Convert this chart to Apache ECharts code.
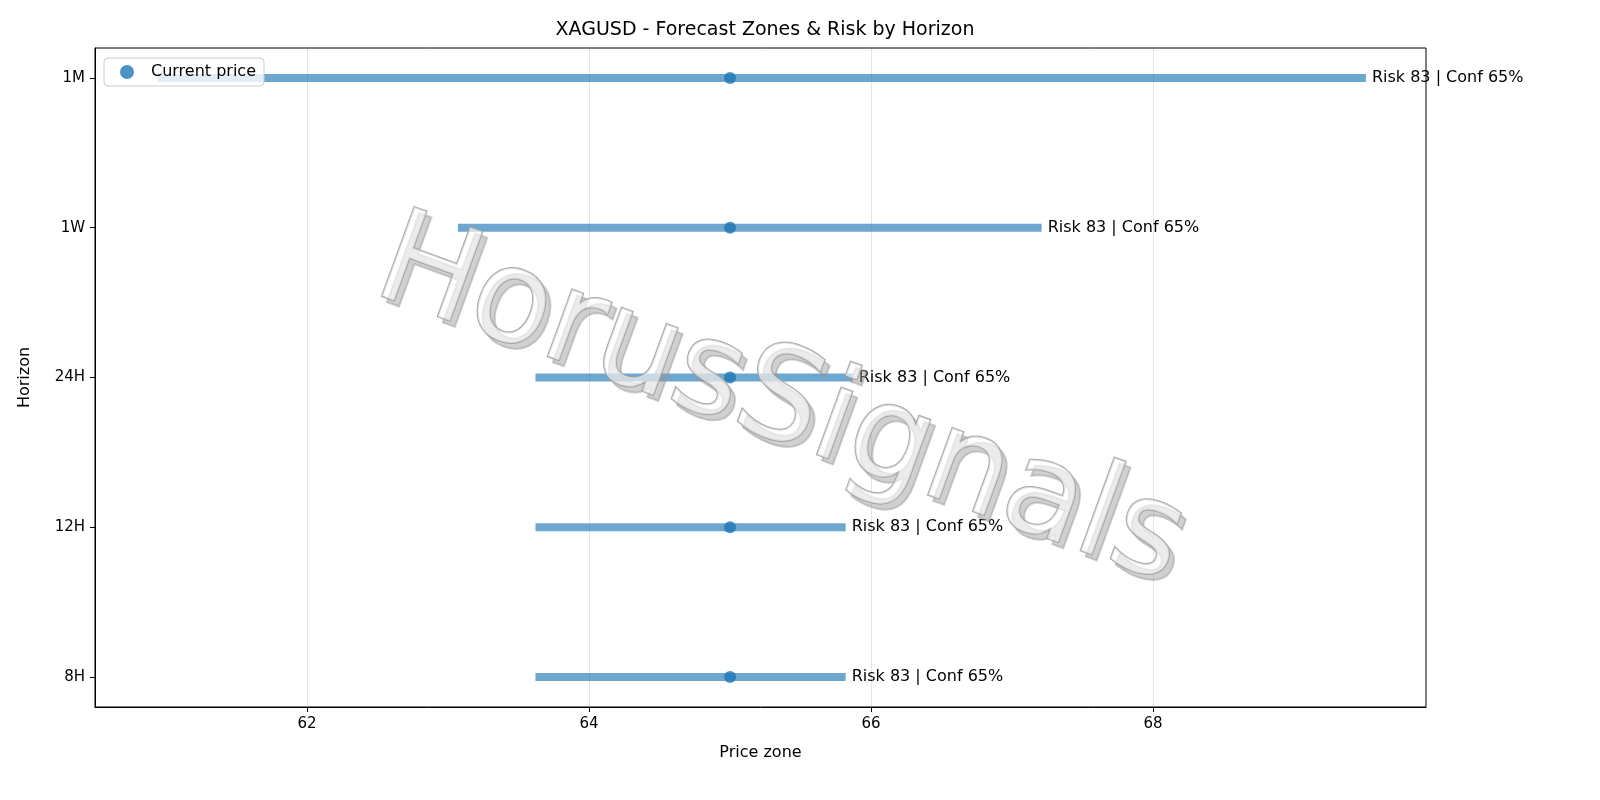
<!DOCTYPE html>
<html>
<head>
<meta charset="utf-8">
<script src="https://cdn.jsdelivr.net/npm/echarts@6/dist/echarts.min.js"></script>
<style>html,body{margin:0;padding:0;background:#fff}#chart{width:1600px;height:800px}</style>
</head>
<body>
<div id="chart"></div>
<script>
var horizons = ['8H', '12H', '24H', '1W', '1M'];
var zoneLow = [63.62, 63.62, 63.62, 63.07, 60.94];
var zoneHigh = [65.82, 65.82, 65.87, 67.21, 69.51];
var currentPrice = [65.0, 65.0, 65.0, 65.0, 65.0];
var riskLabels = ['Risk 83 | Conf 65%', 'Risk 83 | Conf 65%', 'Risk 83 | Conf 65%', 'Risk 83 | Conf 65%', 'Risk 83 | Conf 65%'];
var xTicks = [62, 64, 66, 68];

var chart = echarts.init(document.getElementById('chart'));
var font = 'DejaVu Sans';

var series = [];
for (var i = 0; i < horizons.length; i++) {
    series.push({
        type: 'line',
        data: [[zoneLow[i], i], [zoneHigh[i], i]],
        symbol: 'none',
        silent: true,
        lineStyle: {width: 8, color: '#1f77b4', opacity: 0.65, cap: 'butt'},
        endLabel: {
            show: true,
            distance: 6,
            color: '#000',
            fontSize: 16,
            fontFamily: font,
            formatter: riskLabels[i]
        },
        z: 2
    });
}
series.push({
    name: 'Current price',
    type: 'scatter',
    symbolSize: 12,
    itemStyle: {color: '#1f77b4'},
    data: currentPrice.map(function (v, i) { return [v, i]; }),
    z: 3
});

// watermark: grey offset copy under a translucent white copy
function watermark(dx, dy, fill, stroke, z) {
    return {
        type: 'text', x: 780 + dx, y: 405 + dy, rotation: -20 * Math.PI / 180, z: z, silent: true,
        style: {
            text: 'HorusSignals', fontFamily: font, fontSize: 130,
            align: 'center', verticalAlign: 'middle',
            fill: fill, stroke: stroke, lineWidth: 2
        }
    };
}

var option = {
    animation: false,
    title: {
        text: 'XAGUSD - Forecast Zones & Risk by Horizon',
        left: 760, top: 16, textAlign: 'center',
        textStyle: {fontFamily: font, fontSize: 19, fontWeight: 'normal', color: '#000'}
    },
    legend: {
        data: ['Current price'],
        left: 104, top: 58,
        orient: 'vertical',
        itemWidth: 14, itemHeight: 14,
        padding: [6, 8, 6, 16],
        borderColor: '#ccc', borderWidth: 1, borderRadius: 4,
        backgroundColor: 'rgba(255,255,255,0.8)',
        textStyle: {fontFamily: font, fontSize: 16, color: '#000', padding: [0, 0, 0, 12]}
    },
    grid: {left: 95, right: 174, top: 48, bottom: 93},
    xAxis: {
        type: 'value', min: 60.496, max: 69.936,
        name: 'Price zone', nameLocation: 'middle', nameGap: 38,
        nameTextStyle: {fontFamily: font, fontSize: 16, color: '#000'},
        axisLine: {show: true, onZero: false, lineStyle: {color: '#000'}},
        axisTick: {show: true, customValues: xTicks, length: 5, lineStyle: {color: '#000'}},
        axisLabel: {customValues: xTicks, fontFamily: font, fontSize: 15, color: '#000', margin: 10},
        splitLine: {show: true, lineStyle: {color: '#e5e5e5'}}
    },
    yAxis: {
        type: 'value', min: -0.2, max: 4.2,
        name: 'Horizon', nameLocation: 'middle', nameGap: 62,
        nameTextStyle: {fontFamily: font, fontSize: 16, color: '#000'},
        axisLine: {show: true, onZero: false, lineStyle: {color: '#000'}},
        axisTick: {show: true, customValues: [0, 1, 2, 3, 4], length: 5, lineStyle: {color: '#000'}},
        axisLabel: {
            customValues: [0, 1, 2, 3, 4],
            fontFamily: font, fontSize: 15, color: '#000', margin: 10,
            formatter: function (v) { return horizons[Math.round(v)]; }
        },
        splitLine: {show: false}
    },
    graphic: [
        {type: 'rect', shape: {x: 95, y: 48, width: 1331, height: 659}, style: {fill: 'none', stroke: '#000', lineWidth: 1}, silent: true, z: 10},
        watermark(5, 6, 'rgba(150,150,150,0.45)', 'rgba(150,150,150,0.45)', 19),
        watermark(0, 0, 'rgba(255,255,255,0.6)', 'rgba(160,160,160,0.9)', 20)
    ],
    series: series
};
chart.setOption(option);
</script>
</body>
</html>
